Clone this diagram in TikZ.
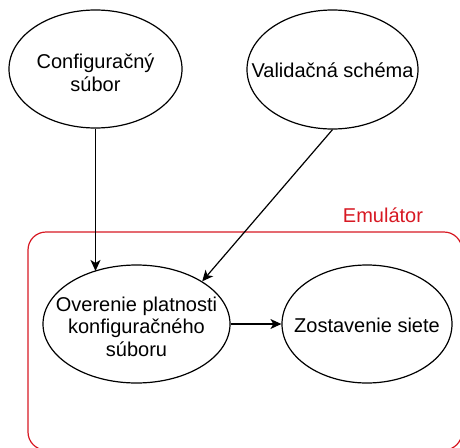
\documentclass[tikz,border=0pt]{standalone}
\usepackage{fontspec}
\setmainfont{Liberation Sans}
\usetikzlibrary{shapes.geometric,arrows.meta}
\definecolor{emured}{RGB}{215,25,35}
\begin{document}
\begin{tikzpicture}[x=1pt,y=-1pt,
  blob/.style={draw=black,line width=1.2pt,ellipse,inner sep=0pt},
  txt/.style={align=center,inner sep=0pt,font=\fontsize{20}{22.5}\selectfont},
  arr/.style={line width=1.2pt,-{Stealth[length=11pt,width=10pt,inset=3pt]}},
  ]
\useasboundingbox (0,0) rectangle (460,447);

% emulator frame and its caption
\node[draw=emured,line width=1.2pt,rounded corners=18pt,inner sep=0pt,
      minimum width=434pt,minimum height=218pt] (emu) at (245,341) {};
\node[txt,text=emured] (emulabel) at (383,215) {Emulátor};

% inputs
\node[blob,minimum width=173pt,minimum height=118pt] (cfg) at (95.5,69) {};
\node[txt] (cfgtext) at (95.5,72.5) {Configuračný\\súbor};
\node[blob,minimum width=171pt,minimum height=119pt] (val) at (332.5,69.5) {};
\node[txt] (valtext) at (332.5,70.5) {Validačná schéma};

% processing steps
\node[blob,minimum width=187pt,minimum height=118pt] (chk) at (136.5,324) {};
\node[txt] (chktext) at (136.5,326.5) {Overenie platnosti\\konfiguračného\\súboru};
\node[blob,minimum width=170pt,minimum height=118pt] (net) at (367,324) {};
\node[txt] (nettext) at (367,325) {Zostavenie siete};

% connectors
\draw[arr] (cfg.south) -- (cfg.south |- chk.129);
\draw[arr] (val.south) -- (chk.33);
\draw[arr] (chk.east) -- (net.west);
\end{tikzpicture}
\end{document}
